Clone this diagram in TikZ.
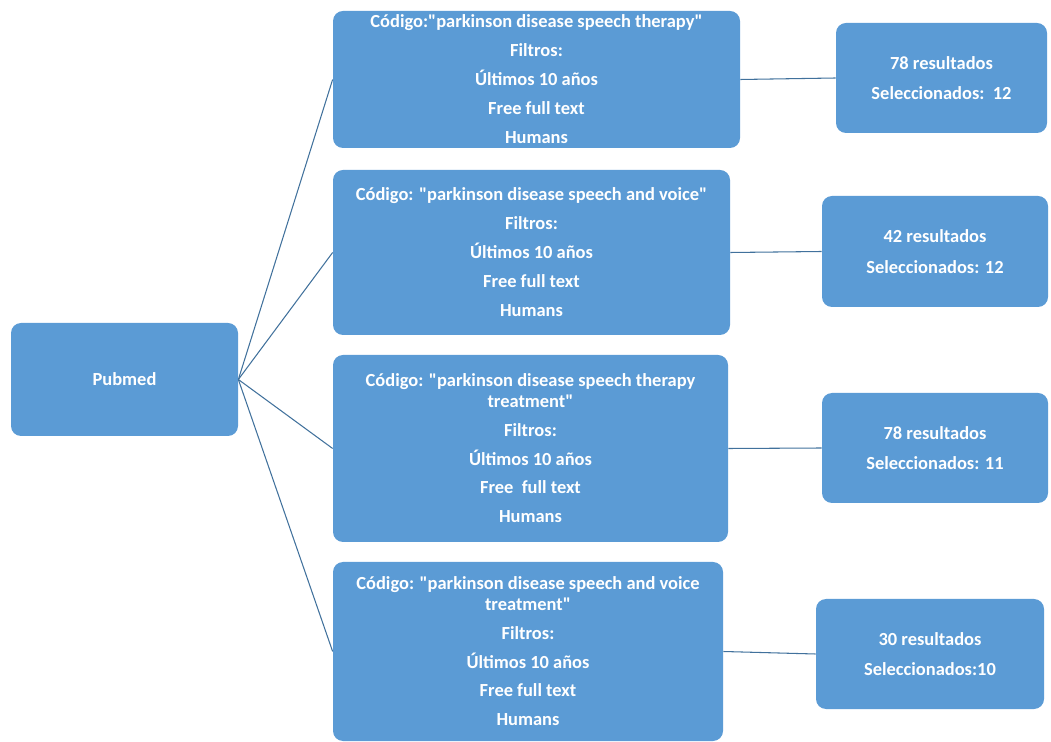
\documentclass[tikz,border=0pt]{standalone}
\usepackage{fontspec}
\setmainfont{Carlito}[Ligatures=TeXOff]
\definecolor{boxblue}{HTML}{5B9BD5}
\definecolor{lineblue}{HTML}{41719C}

\begin{document}
\begin{tikzpicture}[x=0.02cm,y=-0.02cm,every node/.style={fill=boxblue,rounded corners=0.2cm,text=white,align=center,inner sep=0pt,font=\fontsize{10.5}{11.5}\selectfont\bfseries},sized/.style 2 args={minimum width=#1*0.02cm,minimum height=#2*0.02cm},link/.style={lineblue,line width=0.6pt}]
\useasboundingbox (0,0) rectangle (1051,742);

\node[sized={227}{113}] (pubmed) at (124.5,379.5) {Pubmed};

% busquedas
\node[sized={407}{137}] (q1) at (536.5,79.5) {C\'odigo:"parkinson disease speech therapy"\\[5pt] Filtros:\\[5pt] \'Ultimos 10 a\~nos\\[5pt] Free full text\\[5pt] Humans};
\node[sized={397}{165}] (q2) at (531.5,252.5) {C\'odigo: "parkinson disease speech and voice"\\[5pt] Filtros:\\[5pt] \'Ultimos 10 a\~nos\\[5pt] Free full text\\[5pt] Humans};
\node[sized={395}{187}] (q3) at (530.5,448.5) {C\'odigo: "parkinson disease speech therapy\\ treatment"\\[5pt] Filtros:\\[5pt] \'Ultimos 10 a\~nos\\[5pt] Free\ \ full text\\[5pt] Humans};
\node[sized={390}{179}] (q4) at (528,651.5) {C\'odigo: "parkinson disease speech and voice\\ treatment"\\[5pt] Filtros:\\[5pt] \'Ultimos 10 a\~nos\\[5pt] Free full text\\[5pt] Humans};

% resultados
\node[sized={211}{110}] (r1) at (941.5,78) {78 resultados\\[6pt] Seleccionados:\ \ 12};
\node[sized={226}{111}] (r2) at (935,251.5) {42 resultados\\[6pt] Seleccionados: 12};
\node[sized={226}{110}] (r3) at (935,448) {78 resultados\\[6pt] Seleccionados: 11};
\node[sized={228}{110}] (r4) at (930,654) {30 resultados\\[6pt] Seleccionados:10};

\foreach \i in {1,...,4}{
  \draw[link] (pubmed.east) -- (q\i.west);
  \draw[link] (q\i.east) -- (r\i.west);
}
\end{tikzpicture}
\end{document}
